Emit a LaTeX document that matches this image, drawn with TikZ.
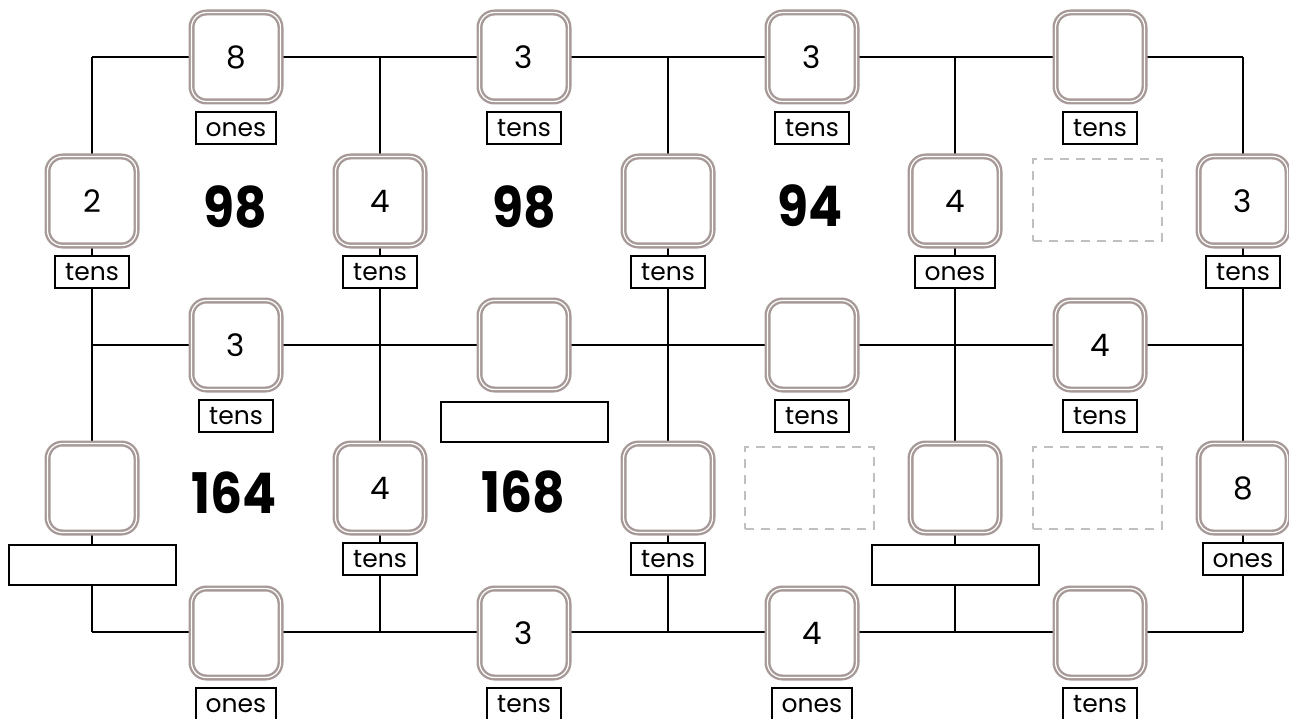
\documentclass[tikz,border=0pt]{standalone}
\usepackage{fontspec}
\setmainfont{Poppins}
\usetikzlibrary{positioning}

\definecolor{boxgray}{RGB}{166,153,152}
\definecolor{dashgray}{RGB}{192,192,192}
\newcommand\narrow[1]{\scalebox{0.9}[1]{#1}}

\tikzset{
  digit/.style={draw=boxgray, line width=2.4pt, double=white, double distance=1.2pt,
    fill=white, rounded corners=15pt, minimum width=89pt, minimum height=89pt,
    inner sep=0pt, font=\fontsize{31}{31}\selectfont},
  place/.style={draw, line width=2pt, fill=white, minimum height=32pt,
    inner xsep=10pt, inner ysep=0pt, text height=18pt, text depth=0pt,
    font=\fontsize{25}{25}\selectfont},
  blank/.style={draw, line width=2pt, fill=white, minimum width=167pt, minimum height=40pt},
  ghost/.style={draw=dashgray, line width=2pt, dash pattern=on 9pt off 7pt,
    minimum width=129pt, minimum height=82pt},
  total/.style={font=\fontsize{56}{56}\selectfont\bfseries},
  wire/.style={line width=2.2pt}
}

\begin{document}
\begin{tikzpicture}[x=1pt,y=-1pt]
\useasboundingbox (0,0) rectangle (1289,719);
\clip (0,0) rectangle (1289,719);
\foreach \c/\x in {1/92,2/380,3/668,4/955,5/1243}
  \foreach \r/\y in {1/57,2/345,3/632}
    \coordinate (j\c\r) at (\x,\y);
\foreach \r in {1,2,3} \draw[wire] (j1\r) -- (j5\r);
\foreach \c in {1,...,5} \draw[wire] (j\c1) -- (j\c3);

\node[digit] (t1) at (236,57) {8};    \node[place, below=8pt of t1] (t1u) {ones};
\node[digit] (t2) at (524,57) {3};    \node[place, below=8pt of t2] (t2u) {tens};
\node[digit] (t3) at (812,57) {3};    \node[place, below=8pt of t3] (t3u) {tens};
\node[digit] (t4) at (1100,57) {};    \node[place, below=8pt of t4] (t4u) {tens};

\node[digit] (u1) at (92,201) {2};    \node[place, below=8pt of u1] (u1u) {tens};
\node[digit] (u2) at (380,201) {4};   \node[place, below=8pt of u2] (u2u) {tens};
\node[digit] (u3) at (668,201) {};    \node[place, below=8pt of u3] (u3u) {tens};
\node[digit] (u4) at (955,201) {4};   \node[place, below=8pt of u4] (u4u) {ones};
\node[digit] (u5) at (1243,201) {3};  \node[place, below=8pt of u5] (u5u) {tens};

\node[digit] (m1) at (236,345) {3};   \node[place, below=8pt of m1] (m1u) {tens};
\node[digit] (m2) at (524,345) {};    \node[blank, below=10pt of m2] (m2u) {};
\node[digit] (m3) at (812,345) {};    \node[place, below=8pt of m3] (m3u) {tens};
\node[digit] (m4) at (1100,345) {4};  \node[place, below=8pt of m4] (m4u) {tens};

\node[digit] (l1) at (92,488) {};     \node[blank, below=10pt of l1] (l1u) {};
\node[digit] (l2) at (380,488) {4};   \node[place, below=8pt of l2] (l2u) {tens};
\node[digit] (l3) at (668,488) {};    \node[place, below=8pt of l3] (l3u) {tens};
\node[digit] (l4) at (955,488) {};    \node[blank, below=10pt of l4] (l4u) {};
\node[digit] (l5) at (1243,488) {8};  \node[place, below=8pt of l5] (l5u) {ones};

\node[digit] (b1) at (236,633) {};    \node[place, below=8pt of b1] (b1u) {ones};
\node[digit] (b2) at (524,633) {3};   \node[place, below=8pt of b2] (b2u) {tens};
\node[digit] (b3) at (812,633) {4};   \node[place, below=8pt of b3] (b3u) {ones};
\node[digit] (b4) at (1100,633) {};   \node[place, below=8pt of b4] (b4u) {tens};

\node[ghost] (g1) at (1097,200) {};
\node[ghost] (g2) at (809,488) {};
\node[ghost] (g3) at (1097,488) {};

\node[total] (s1) at (235,207) {\narrow{98}};
\node[total] (s2) at (524,207) {\narrow{98}};
\node[total] (s3) at (810,206) {\narrow{94}};
\node[total] (s4) at (234,493) {\narrow{164}};
\node[total] (s5) at (523,492) {\narrow{168}};
\end{tikzpicture}
\end{document}
